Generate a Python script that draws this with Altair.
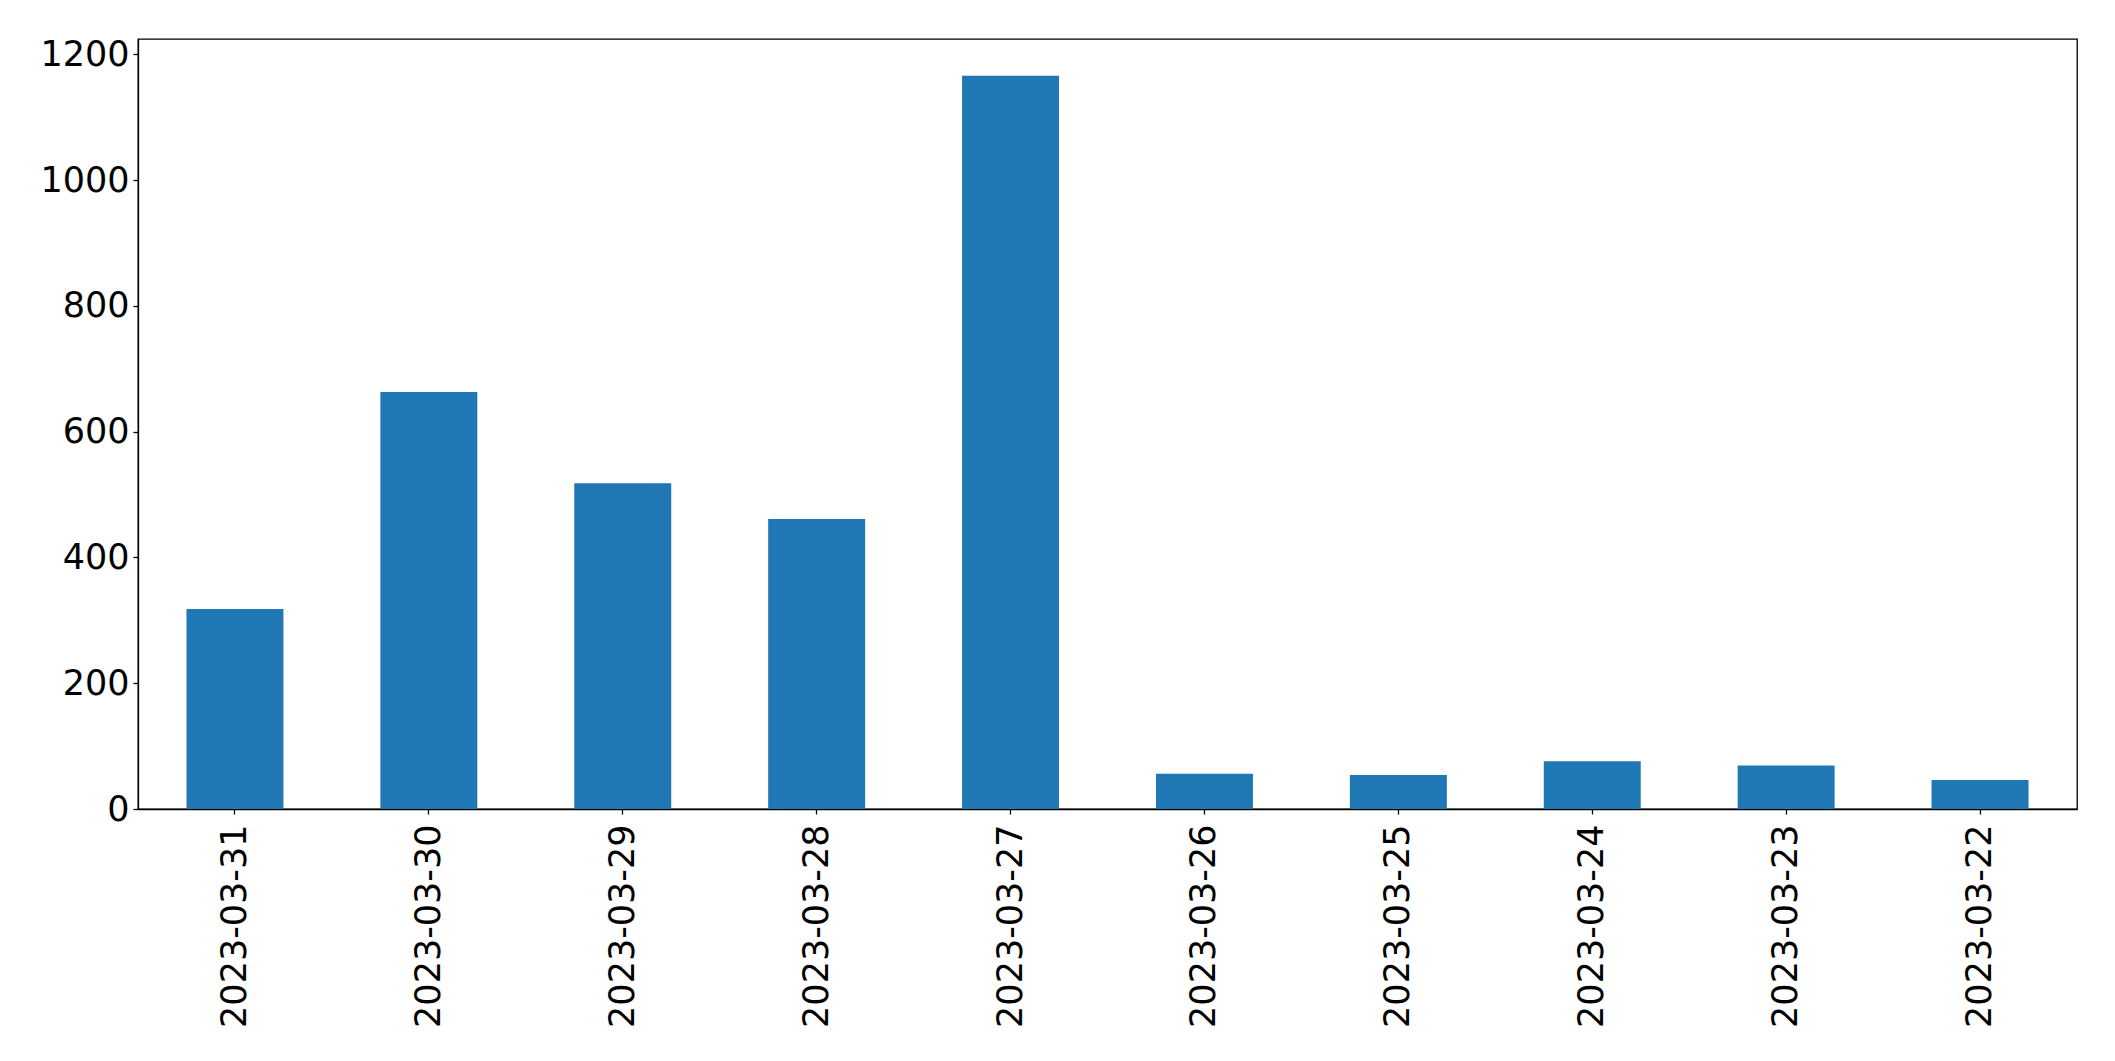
import altair as alt
import pandas as pd

dates = ["2023-03-31", "2023-03-30", "2023-03-29", "2023-03-28", "2023-03-27",
         "2023-03-26", "2023-03-25", "2023-03-24", "2023-03-23", "2023-03-22"]
counts = [318, 663, 518, 461, 1166, 56, 54, 76, 69, 46]
y_ticks = [0, 200, 400, 600, 800, 1000, 1200]

df = pd.DataFrame({"date": dates, "count": counts})

FONT = "DejaVu Sans"

chart = alt.Chart(df).mark_bar(color="#1f77b4").encode(
    x=alt.X("date:N", sort=dates, title=None,
            scale=alt.Scale(paddingInner=0.5, paddingOuter=0.25),
            axis=alt.Axis(labelAngle=-90, labelFontSize=35, labelFont=FONT,
                          labelColor="black", tickColor="black", tickSize=5,
                          tickWidth=1.3, domainColor="black", domainWidth=1.3,
                          labelPadding=10, labelLimit=0, grid=False)),
    y=alt.Y("count:Q", title=None,
            scale=alt.Scale(domain=[0, 1224.3], nice=False, zero=True),
            axis=alt.Axis(values=y_ticks, format="d", labelFontSize=35, labelFont=FONT,
                          labelColor="black", tickColor="black", tickSize=5,
                          tickWidth=1.3, domainColor="black", domainWidth=1.3,
                          labelPadding=4, grid=False)),
).properties(
    width=1939,
    height=770,
    autosize=alt.AutoSizeParams(type="none"),
    padding={"left": 130, "top": 31, "right": 30, "bottom": 240},
).configure(
    background="white",
    view=alt.ViewConfig(stroke="black", strokeWidth=1.3),
)

chart.save("out.html", embed_options={"renderer": "svg", "actions": False})
